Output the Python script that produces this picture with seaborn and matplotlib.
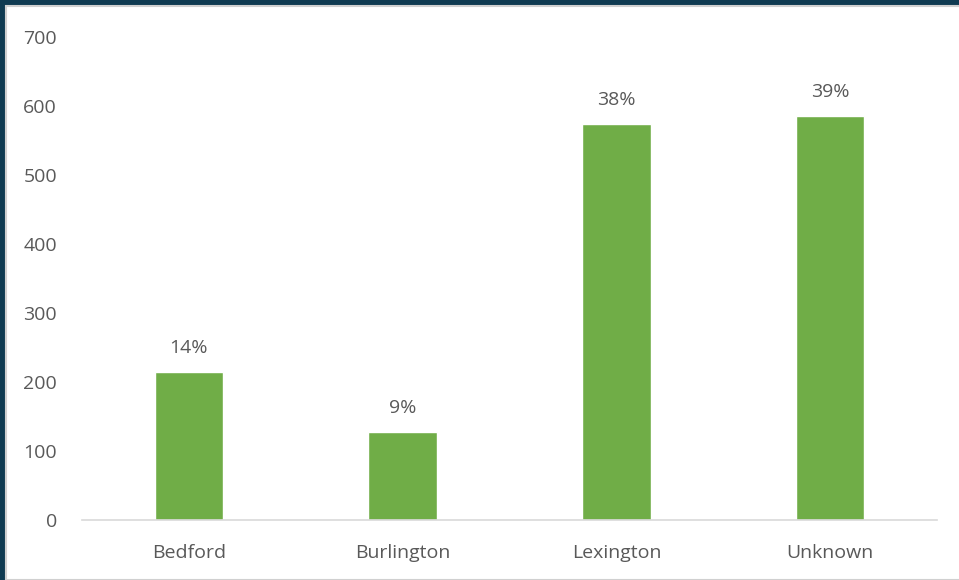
import matplotlib
matplotlib.use("Agg")
import matplotlib.pyplot as plt
import seaborn as sns
from matplotlib.patches import Rectangle

# data
towns = ["Bedford", "Burlington", "Lexington", "Unknown"]
counts = [214, 127, 574, 585]
pct_labels = ["14%", "9%", "38%", "39%"]

sns.set_style("white")
plt.rcParams["font.family"] = ["Open Sans", "DejaVu Sans"]

text_grey = "#595959"
bar_green = "#70AD47"

fig = plt.figure(figsize=(9.59, 5.80), dpi=100)
fig.patch.set_facecolor("#0F3B52")

# white chart panel inside the dark frame
fig.patches.append(Rectangle((6 / 959, 0), 1, 1 - 6 / 580, transform=fig.transFigure,
                             facecolor="white", edgecolor="#D0D0D0", linewidth=1.5, zorder=-1))

ax = fig.add_axes([82 / 959, 1 - 520 / 580, (937 - 82) / 959, (520 - 37) / 580])
ax.set_zorder(1)
ax.set_facecolor("none")

sns.barplot(x=towns, y=counts, color=bar_green, saturation=1, width=0.32, ax=ax)

ax.bar_label(ax.containers[0], labels=pct_labels, padding=11, fontsize=14, color=text_grey)

ax.set_ylim(0, 700)
ax.set_yticks(range(0, 701, 100))
ax.tick_params(axis="y", length=0, pad=18, labelsize=14, labelcolor=text_grey)
ax.tick_params(axis="x", length=0, pad=17, labelsize=14, labelcolor=text_grey)

for side in ["top", "right", "left"]:
    ax.spines[side].set_visible(False)
ax.spines["bottom"].set_color("#D9D9D9")
ax.spines["bottom"].set_linewidth(1.2)
ax.set_xlabel("")
ax.set_ylabel("")

fig.savefig("out.png", dpi=100, facecolor=fig.get_facecolor())
